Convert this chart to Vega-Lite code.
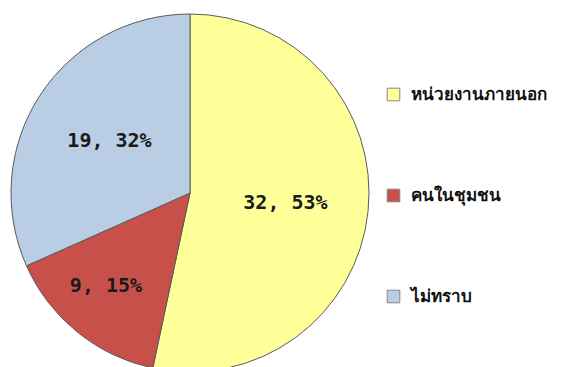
{
  "$schema": "https://vega.github.io/schema/vega-lite/v6.json",
  "width": 380,
  "height": 386,
  "padding": 0,
  "autosize": {"type": "pad"},
  "background": "white",
  "data": {"values": [
    {"group": "หน่วยงานภายนอก", "count": 32, "label": "32, 53%", "idx": 1},
    {"group": "คนในชุมชน", "count": 9, "label": "9, 15%", "idx": 2},
    {"group": "ไม่ทราบ", "count": 19, "label": "19, 32%", "idx": 3}
  ]},
  "encoding": {
    "theta": {"field": "count", "type": "quantitative", "stack": true},
    "order": {"field": "idx", "type": "quantitative"}
  },
  "layer": [
    {
      "mark": {"type": "arc", "outerRadius": 179, "stroke": "#5a5a5a", "strokeWidth": 1},
      "encoding": {
        "color": {
          "field": "group", "type": "nominal",
          "sort": ["หน่วยงานภายนอก", "คนในชุมชน", "ไม่ทราบ"],
          "scale": {"domain": ["หน่วยงานภายนอก", "คนในชุมชน", "ไม่ทราบ"], "range": ["#FFFF99", "#C8504B", "#B9CDE5"]},
          "legend": {
            "title": null, "orient": "none", "legendX": 385, "legendY": 86,
            "symbolType": "square", "symbolSize": 160, "symbolStrokeColor": "#888888", "symbolStrokeWidth": 1,
            "labelFont": "Noto Sans", "labelFontSize": 17, "labelFontWeight": "bold", "labelColor": "#111111",
            "rowPadding": 83, "labelOffset": 9, "labelLimit": 200
          }
        }
      }
    },
    {
      "mark": {"type": "text", "radius": 96, "font": "DejaVu Sans Mono", "fontSize": 20, "fontWeight": "bold", "fill": "#1a1a1a"},
      "encoding": {"text": {"condition": {"test": "datum.idx != 2", "field": "label"}, "value": ""}}
    },
    {
      "mark": {"type": "text", "radius": 124, "dx": -6, "dy": -3, "font": "DejaVu Sans Mono", "fontSize": 20, "fontWeight": "bold", "fill": "#1a1a1a"},
      "encoding": {"text": {"condition": {"test": "datum.idx == 2", "field": "label"}, "value": ""}}
    }
  ]
}
